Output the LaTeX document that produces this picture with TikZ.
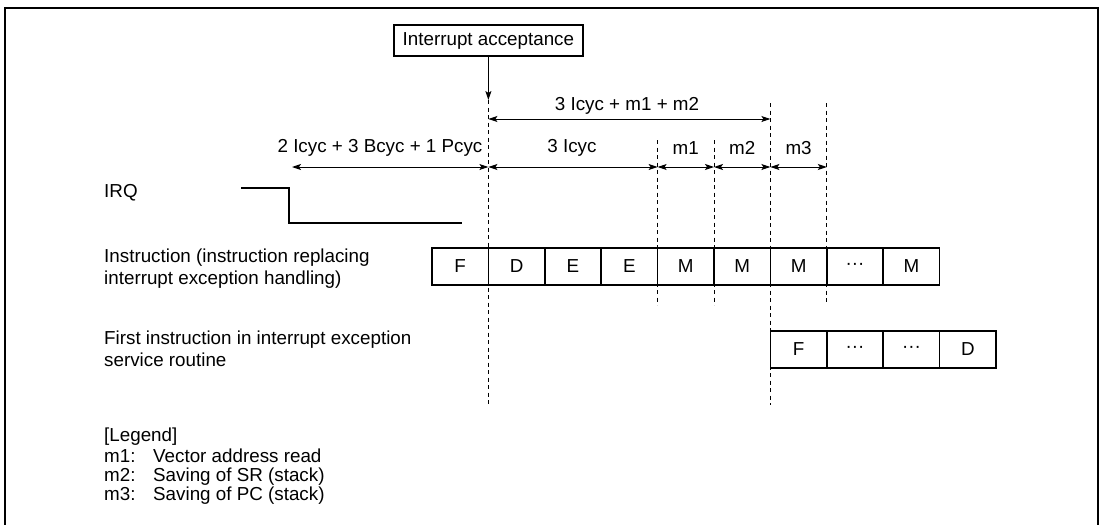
\documentclass[tikz,border=0pt]{standalone}
\usepackage{fontspec}
\setmainfont{Liberation Sans}
\usetikzlibrary{arrows.meta}
\begin{document}
\begin{tikzpicture}[x=1pt,y=-1pt,
  txt/.style={inner sep=0pt,font=\fontsize{18.8}{22}\selectfont},
  cell/.style={draw,line width=1.7pt,minimum width=56.4pt,minimum height=37pt,inner sep=0pt,font=\fontsize{18.8}{22}\selectfont},
  dim/.style={line width=1pt,{Stealth[length=9pt,width=6pt,inset=2pt]}-{Stealth[length=9pt,width=6pt,inset=2pt]}},
  guide/.style={line width=0.9pt,dash pattern=on 4pt off 3.5pt},
  wave/.style={line width=1.7pt},
]
\useasboundingbox (0,0) rectangle (1101,525);
% frame
\draw[line width=2pt] (4.5,540) -- (4.5,8) -- (1097.5,8) -- (1097.5,540);

% guide coordinates
\coordinate (g0t) at (488.4,100);  \coordinate (g0b) at (488.4,405);
\coordinate (g4t) at (657.6,140);  \coordinate (g4b) at (657.6,305);
\coordinate (g5t) at (714.0,140);  \coordinate (g5b) at (714.0,305);
\coordinate (g6t) at (770.4,103);  \coordinate (g6b) at (770.4,405);
\coordinate (g7t) at (826.8,103);  \coordinate (g7b) at (826.8,305);
\coordinate (rowA) at (0,119);
\coordinate (rowB) at (0,167);
\coordinate (irqL) at (292,167);

% Interrupt acceptance
\node[draw,line width=1.9pt,minimum width=189pt,minimum height=31pt,inner sep=0pt,font=\fontsize{18.8}{22}\selectfont] (ia) at (488.4,40.5) {Interrupt acceptance};
\draw[line width=1pt,-{Stealth[length=9pt,width=6pt,inset=2pt]}] (ia.south) -- (g0t);

% guides
\draw[guide] (g0t) -- (g0b);
\draw[guide] (g4t) -- (g4b);
\draw[guide] (g5t) -- (g5b);
\draw[guide] (g6t) -- (g6b);
\draw[guide] (g7t) -- (g7b);

% dimension arrows
\draw[dim] (g0t |- rowA) -- (g6t |- rowA);
\node[txt] (lA) at (627,106) {3 Icyc + m1 + m2};
\draw[dim] (irqL) -- (g0t |- rowB);
\node[txt] (lB) at (380,148) {2 Icyc + 3 Bcyc + 1 Pcyc};
\draw[dim] (g0t |- rowB) -- (g4t |- rowB);
\node[txt] (l3) at (572,148) {3 Icyc};
\draw[dim] (g4t |- rowB) -- (g5t |- rowB);
\node[txt] (lm1) at (685.8,148) {m1};
\draw[dim] (g5t |- rowB) -- (g6t |- rowB);
\node[txt] (lm2) at (742.2,148) {m2};
\draw[dim] (g6t |- rowB) -- (g7t |- rowB);
\node[txt] (lm3) at (798.6,148) {m3};

% IRQ
\node[txt,anchor=base west] (irq) at (104,197) {IRQ};
\draw[wave] (241,188) -- (289,188) -- (289,223) -- (462,223);

% labels
\node[txt,anchor=base west] (ins1) at (104,262) {Instruction (instruction replacing};
\node[txt,anchor=base west] (ins2) at (104,284) {interrupt exception handling)};
\node[txt,anchor=base west] (fi1) at (104,344) {First instruction in interrupt exception};
\node[txt,anchor=base west] (fi2) at (104,366) {service routine};

% row 1 cells
\node[cell] (r1) at (460.2,266.5) {F};
\node[cell] (r2) at (516.6,266.5) {D};
\node[cell] (r3) at (573.0,266.5) {E};
\node[cell] (r4) at (629.4,266.5) {E};
\node[cell] (r5) at (685.8,266.5) {M};
\node[cell] (r6) at (742.2,266.5) {M};
\node[cell] (r7) at (798.6,266.5) {M};
\node[cell] (r8) at (855.0,266.5) {\textperiodcentered\textperiodcentered\textperiodcentered};
\node[cell] (r9) at (911.4,266.5) {M};

% row 2 cells
\node[cell] (s1) at (798.6,349.5) {F};
\node[cell] (s2) at (855.0,349.5) {\textperiodcentered\textperiodcentered\textperiodcentered};
\node[cell] (s3) at (911.4,349.5) {\textperiodcentered\textperiodcentered\textperiodcentered};
\node[cell] (s4) at (967.8,349.5) {D};

% legend
\node[txt,anchor=base west] (lg) at (104,441) {[Legend]};
\node[txt,anchor=base west] (k1) at (104,462) {m1:};
\node[txt,anchor=base west] (v1) at (153,462) {Vector address read};
\node[txt,anchor=base west] (k2) at (104,481) {m2:};
\node[txt,anchor=base west] (v2) at (153,481) {Saving of SR (stack)};
\node[txt,anchor=base west] (k3) at (104,500) {m3:};
\node[txt,anchor=base west] (v3) at (153,500) {Saving of PC (stack)};
\end{tikzpicture}
\end{document}
